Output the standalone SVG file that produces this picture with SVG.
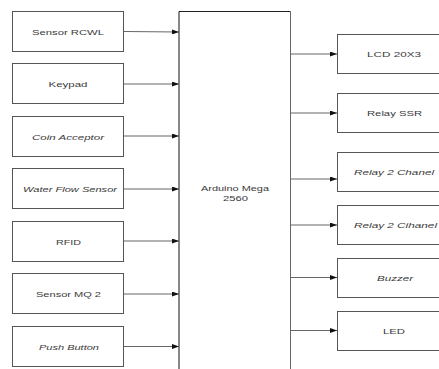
<svg xmlns="http://www.w3.org/2000/svg" width="439" height="369" viewBox="0 0 439 369">
<style>
.box{fill:#fff;stroke:#555;stroke-width:1}
.t{font-family:"Liberation Sans",Arial,sans-serif;font-size:8px;fill:#3a3a3a;text-anchor:middle}
.i{font-style:italic}
.c{stroke:#666;stroke-width:1;fill:none;marker-end:url(#ah)}
</style>
<defs>
<marker id="ah" markerWidth="7" markerHeight="5" refX="7" refY="2.5" orient="auto" markerUnits="userSpaceOnUse">
<path d="M0,0 L7,2.5 L0,5 Z" fill="#111"/>
</marker>
</defs>
<rect width="439" height="369" fill="#fff"/>
<g id="arduino">
<line x1="179" y1="11.5" x2="290.5" y2="11.5" stroke="#222"/>
<line x1="179" y1="11.5" x2="179" y2="369" stroke="#111"/>
<line x1="290.5" y1="11.5" x2="290.5" y2="369" stroke="#666"/>
<text class="t" x="235" y="191" textLength="68" lengthAdjust="spacingAndGlyphs">Arduino Mega</text>
<text class="t" x="235.5" y="201" textLength="25" lengthAdjust="spacingAndGlyphs">2560</text>
</g>
<g id="n1"><rect class="box" x="12.5" y="11.5" width="111" height="40"/><text class="t" x="68" y="34.5" textLength="72" lengthAdjust="spacingAndGlyphs">Sensor RCWL</text></g>
<g id="n2"><rect class="box" x="12.5" y="63.5" width="111" height="40"/><text class="t" x="68" y="86.5" textLength="39" lengthAdjust="spacingAndGlyphs">Keypad</text></g>
<g id="n3"><rect class="box" x="12.5" y="116.5" width="111" height="40"/><text class="t i" x="68" y="139.5" textLength="72" lengthAdjust="spacingAndGlyphs">Coin Acceptor</text></g>
<g id="n4"><rect class="box" x="12.5" y="168.5" width="111" height="40"/><text class="t i" x="70" y="191.5" textLength="94" lengthAdjust="spacingAndGlyphs">Water Flow Sensor</text></g>
<g id="n5"><rect class="box" x="12.5" y="221.5" width="111" height="40"/><text class="t" x="68.5" y="244.5" textLength="25" lengthAdjust="spacingAndGlyphs">RFID</text></g>
<g id="n6"><rect class="box" x="12.5" y="273.5" width="111" height="40"/><text class="t" x="68.5" y="296.5" textLength="65" lengthAdjust="spacingAndGlyphs">Sensor MQ 2</text></g>
<g id="n7"><rect class="box" x="12.5" y="326.5" width="111" height="40"/><text class="t i" x="69" y="349.5" textLength="60" lengthAdjust="spacingAndGlyphs">Push Button</text></g>
<g id="o1"><rect class="box" x="337.5" y="34.5" width="115" height="39"/><text class="t" x="394" y="57" textLength="54" lengthAdjust="spacingAndGlyphs">LCD 20X3</text></g>
<g id="o2"><rect class="box" x="337.5" y="93.5" width="115" height="39"/><text class="t" x="394.5" y="116" textLength="55" lengthAdjust="spacingAndGlyphs">Relay SSR</text></g>
<g id="o3"><rect class="box" x="337.5" y="152.5" width="115" height="39"/><text class="t i" x="394" y="175" textLength="80" lengthAdjust="spacingAndGlyphs">Relay 2 Chanel</text></g>
<g id="o4"><rect class="box" x="337.5" y="205.5" width="115" height="39"/><text class="t i" x="395.5" y="228" textLength="83" lengthAdjust="spacingAndGlyphs">Relay 2 Cihanel</text></g>
<g id="o5"><rect class="box" x="337.5" y="258.5" width="115" height="39"/><text class="t i" x="395" y="281" textLength="36" lengthAdjust="spacingAndGlyphs">Buzzer</text></g>
<g id="o6"><rect class="box" x="337.5" y="311.5" width="115" height="39"/><text class="t" x="394" y="334" textLength="22" lengthAdjust="spacingAndGlyphs">LED</text></g>
<g id="connectors">
<line class="c" x1="124" y1="31.5" x2="179" y2="32"/>
<line class="c" x1="124" y1="84" x2="179" y2="84"/>
<line class="c" x1="124" y1="136" x2="179" y2="136"/>
<line class="c" x1="124" y1="189" x2="179" y2="189"/>
<line class="c" x1="124" y1="241" x2="179" y2="241"/>
<line class="c" x1="124" y1="294" x2="179" y2="294"/>
<line class="c" x1="124" y1="346.5" x2="179" y2="346.5"/>
<line class="c" x1="291" y1="54" x2="337" y2="54"/>
<line class="c" x1="291" y1="113" x2="337" y2="113"/>
<line class="c" x1="291" y1="179" x2="337" y2="179"/>
<line class="c" x1="291" y1="225" x2="337" y2="225"/>
<line class="c" x1="291" y1="277.5" x2="337" y2="277.5"/>
<line class="c" x1="291" y1="330.5" x2="337" y2="330.5"/>
</g>
</svg>
